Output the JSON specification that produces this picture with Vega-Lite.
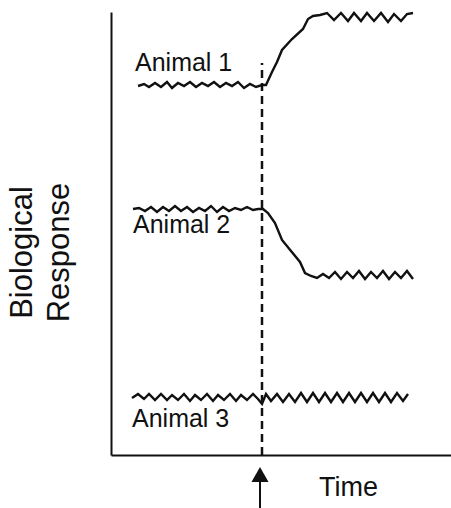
{
  "$schema": "https://vega.github.io/schema/vega-lite/v6.json",
  "width": 340,
  "height": 443,
  "autosize": {"type": "none"},
  "padding": {"left": 111, "top": 12, "right": 0, "bottom": 53},
  "background": "white",
  "config": {
    "view": {"stroke": null},
    "font": "Liberation Sans"
  },
  "datasets": {
    "curves": [
      {"series":"Animal 1","t":27,"r":369},{"series":"Animal 1","t":33,"r":371},{"series":"Animal 1","t":38,"r":368},{"series":"Animal 1","t":44,"r":372},{"series":"Animal 1","t":50,"r":368},{"series":"Animal 1","t":56,"r":373},{"series":"Animal 1","t":61,"r":367},{"series":"Animal 1","t":67,"r":372},{"series":"Animal 1","t":73,"r":369},{"series":"Animal 1","t":79,"r":373},{"series":"Animal 1","t":85,"r":368},{"series":"Animal 1","t":91,"r":372},{"series":"Animal 1","t":97,"r":369},{"series":"Animal 1","t":103,"r":373},{"series":"Animal 1","t":109,"r":368},{"series":"Animal 1","t":115,"r":372},{"series":"Animal 1","t":121,"r":369},{"series":"Animal 1","t":127,"r":373},{"series":"Animal 1","t":133,"r":367},{"series":"Animal 1","t":139,"r":371},{"series":"Animal 1","t":145,"r":368},{"series":"Animal 1","t":151,"r":370},{"series":"Animal 1","t":155,"r":370},{"series":"Animal 1","t":161,"r":383},{"series":"Animal 1","t":166,"r":393},{"series":"Animal 1","t":171,"r":405},{"series":"Animal 1","t":181,"r":416},{"series":"Animal 1","t":192,"r":426},{"series":"Animal 1","t":197,"r":436},{"series":"Animal 1","t":202,"r":439},{"series":"Animal 1","t":209,"r":440},{"series":"Animal 1","t":216,"r":442},{"series":"Animal 1","t":223,"r":435},{"series":"Animal 1","t":230,"r":442},{"series":"Animal 1","t":237,"r":434},{"series":"Animal 1","t":243,"r":442},{"series":"Animal 1","t":250,"r":434},{"series":"Animal 1","t":256,"r":442},{"series":"Animal 1","t":263,"r":434},{"series":"Animal 1","t":270,"r":442},{"series":"Animal 1","t":277,"r":433},{"series":"Animal 1","t":283,"r":441},{"series":"Animal 1","t":290,"r":434},{"series":"Animal 1","t":296,"r":441},{"series":"Animal 1","t":302,"r":442},
      {"series":"Animal 2","t":22,"r":246},{"series":"Animal 2","t":28,"r":247},{"series":"Animal 2","t":34,"r":244},{"series":"Animal 2","t":40,"r":248},{"series":"Animal 2","t":46,"r":243},{"series":"Animal 2","t":52,"r":248},{"series":"Animal 2","t":58,"r":244},{"series":"Animal 2","t":64,"r":249},{"series":"Animal 2","t":70,"r":244},{"series":"Animal 2","t":76,"r":248},{"series":"Animal 2","t":82,"r":243},{"series":"Animal 2","t":88,"r":247},{"series":"Animal 2","t":94,"r":244},{"series":"Animal 2","t":100,"r":249},{"series":"Animal 2","t":106,"r":243},{"series":"Animal 2","t":112,"r":248},{"series":"Animal 2","t":118,"r":244},{"series":"Animal 2","t":124,"r":247},{"series":"Animal 2","t":130,"r":245},{"series":"Animal 2","t":136,"r":248},{"series":"Animal 2","t":142,"r":245},{"series":"Animal 2","t":147,"r":246},{"series":"Animal 2","t":152,"r":246},{"series":"Animal 2","t":157,"r":242},{"series":"Animal 2","t":164,"r":232},{"series":"Animal 2","t":171,"r":215},{"series":"Animal 2","t":180,"r":204},{"series":"Animal 2","t":189,"r":193},{"series":"Animal 2","t":194,"r":182},{"series":"Animal 2","t":200,"r":179},{"series":"Animal 2","t":206,"r":177},{"series":"Animal 2","t":212,"r":181},{"series":"Animal 2","t":218,"r":177},{"series":"Animal 2","t":224,"r":183},{"series":"Animal 2","t":230,"r":176},{"series":"Animal 2","t":236,"r":183},{"series":"Animal 2","t":242,"r":177},{"series":"Animal 2","t":248,"r":184},{"series":"Animal 2","t":254,"r":176},{"series":"Animal 2","t":260,"r":183},{"series":"Animal 2","t":266,"r":177},{"series":"Animal 2","t":272,"r":184},{"series":"Animal 2","t":278,"r":176},{"series":"Animal 2","t":284,"r":183},{"series":"Animal 2","t":290,"r":177},{"series":"Animal 2","t":296,"r":184},{"series":"Animal 2","t":302,"r":176},
      {"series":"Animal 3","t":21,"r":57},{"series":"Animal 3","t":27,"r":61},{"series":"Animal 3","t":33,"r":56},{"series":"Animal 3","t":38,"r":61},{"series":"Animal 3","t":44,"r":55},{"series":"Animal 3","t":50,"r":61},{"series":"Animal 3","t":56,"r":55},{"series":"Animal 3","t":61,"r":60},{"series":"Animal 3","t":67,"r":55},{"series":"Animal 3","t":73,"r":61},{"series":"Animal 3","t":79,"r":54},{"series":"Animal 3","t":84,"r":60},{"series":"Animal 3","t":90,"r":55},{"series":"Animal 3","t":96,"r":61},{"series":"Animal 3","t":102,"r":54},{"series":"Animal 3","t":107,"r":60},{"series":"Animal 3","t":113,"r":55},{"series":"Animal 3","t":119,"r":61},{"series":"Animal 3","t":125,"r":54},{"series":"Animal 3","t":130,"r":60},{"series":"Animal 3","t":136,"r":55},{"series":"Animal 3","t":142,"r":61},{"series":"Animal 3","t":147,"r":56},{"series":"Animal 3","t":151,"r":51},{"series":"Animal 3","t":155,"r":61},{"series":"Animal 3","t":160,"r":54},{"series":"Animal 3","t":166,"r":61},{"series":"Animal 3","t":172,"r":53},{"series":"Animal 3","t":178,"r":61},{"series":"Animal 3","t":184,"r":53},{"series":"Animal 3","t":190,"r":62},{"series":"Animal 3","t":196,"r":53},{"series":"Animal 3","t":202,"r":62},{"series":"Animal 3","t":208,"r":53},{"series":"Animal 3","t":214,"r":62},{"series":"Animal 3","t":220,"r":53},{"series":"Animal 3","t":226,"r":62},{"series":"Animal 3","t":232,"r":53},{"series":"Animal 3","t":238,"r":62},{"series":"Animal 3","t":244,"r":53},{"series":"Animal 3","t":250,"r":62},{"series":"Animal 3","t":256,"r":53},{"series":"Animal 3","t":262,"r":62},{"series":"Animal 3","t":268,"r":53},{"series":"Animal 3","t":274,"r":62},{"series":"Animal 3","t":280,"r":53},{"series":"Animal 3","t":286,"r":62},{"series":"Animal 3","t":292,"r":54},{"series":"Animal 3","t":297,"r":61}
    ],
    "labels": [
      {"label":"Animal 1","t":24,"r":384},
      {"label":"Animal 2","t":22,"r":222},
      {"label":"Animal 3","t":21,"r":28}
    ],
    "stimulus": [
      {"t":151,"r0":0,"r1":392}
    ],
    "arrowShaft": [
      {"t":149,"r0":-27,"r1":-53}
    ],
    "arrowHead": [
      {"t":149,"r":-19.5}
    ]
  },
  "layer": [
    {
      "data": {"name": "curves"},
      "mark": {"type": "line", "color": "#111", "strokeWidth": 2.4, "strokeJoin": "miter"},
      "encoding": {
        "x": {
          "field": "t", "type": "quantitative",
          "scale": {"domain": [0, 340], "nice": false, "zero": false},
          "axis": {
            "title": "Time", "ticks": false, "labels": false, "grid": false,
            "domainColor": "#111", "domainWidth": 2,
            "titleFontSize": 27, "titleFontWeight": "normal", "titleColor": "#111",
            "titleX": 237, "titleY": 40, "titleBaseline": "alphabetic", "titleAlign": "center"
          }
        },
        "y": {
          "field": "r", "type": "quantitative",
          "scale": {"domain": [0, 443], "nice": false, "zero": false},
          "axis": {
            "title": ["Biological", "Response"], "ticks": false, "labels": false, "grid": false,
            "domainColor": "#111", "domainWidth": 2,
            "titleFontSize": 31, "titleFontWeight": "normal", "titleColor": "#111",
            "titleLineHeight": 37,
            "titleX": -73, "titleY": 240, "titleBaseline": "bottom", "titleAlign": "center", "titleAngle": -90
          }
        },
        "detail": {"field": "series", "type": "nominal"}
      }
    },
    {
      "data": {"name": "stimulus"},
      "mark": {"type": "rule", "color": "#111", "strokeWidth": 2.5, "strokeDash": [8, 5]},
      "encoding": {
        "x": {"field": "t", "type": "quantitative"},
        "y": {"field": "r0", "type": "quantitative"},
        "y2": {"field": "r1"}
      }
    },
    {
      "data": {"name": "labels"},
      "mark": {"type": "text", "align": "left", "baseline": "alphabetic", "fontSize": 25, "color": "#111"},
      "encoding": {
        "x": {"field": "t", "type": "quantitative"},
        "y": {"field": "r", "type": "quantitative"},
        "text": {"field": "label", "type": "nominal"}
      }
    },
    {
      "data": {"name": "arrowShaft"},
      "mark": {"type": "rule", "color": "#111", "strokeWidth": 2},
      "encoding": {
        "x": {"field": "t", "type": "quantitative"},
        "y": {"field": "r0", "type": "quantitative"},
        "y2": {"field": "r1"}
      }
    },
    {
      "data": {"name": "arrowHead"},
      "mark": {"type": "point", "shape": "M-1,0.88L0,-0.88L1,0.88Z", "filled": true, "color": "#111", "opacity": 1, "size": 289, "strokeWidth": 0},
      "encoding": {
        "x": {"field": "t", "type": "quantitative"},
        "y": {"field": "r", "type": "quantitative"}
      }
    }
  ]
}
